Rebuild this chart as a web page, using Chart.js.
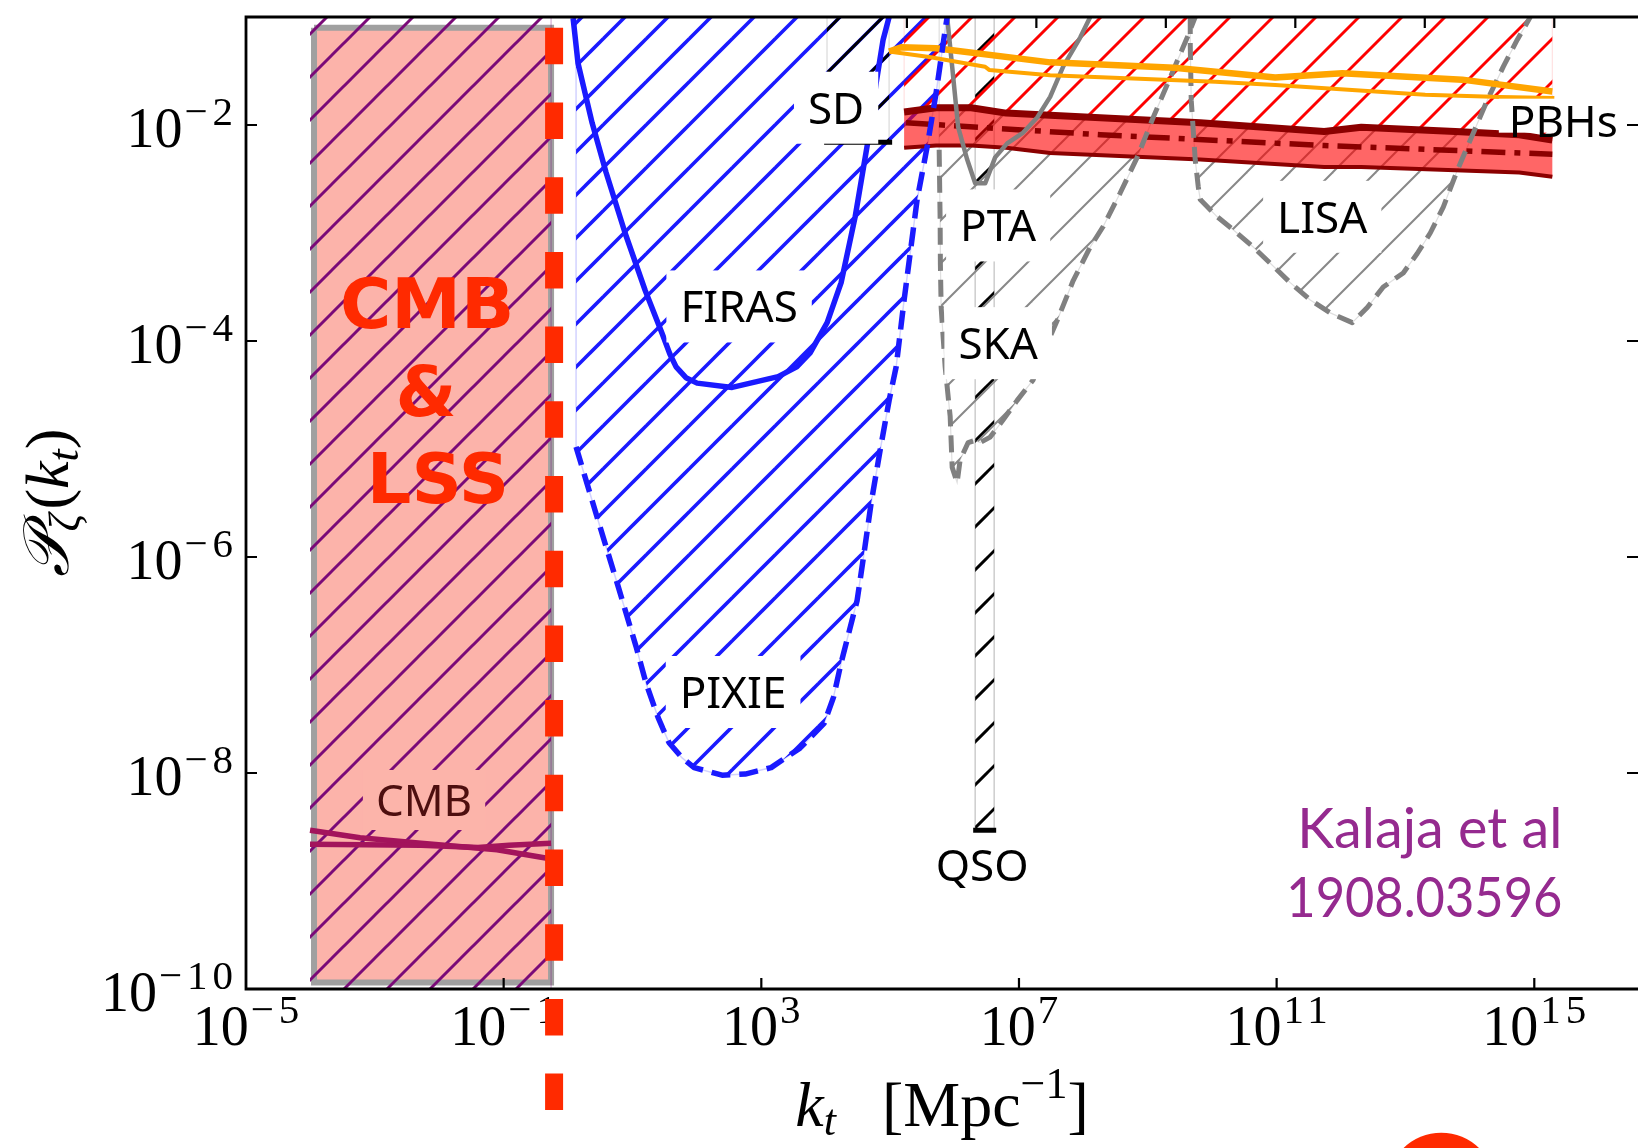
<!DOCTYPE html>
<html>
<head>
<meta charset="utf-8">
<script src="https://cdn.jsdelivr.net/npm/chart.js@4.4.1/dist/chart.umd.min.js"></script>
<style>
    html, body { margin: 0; padding: 0; background: #fff; }
    canvas { display: block; }
</style>
</head>
<body>
<canvas id="chart" width="1638" height="1148"></canvas>
<script>
// every pair is [log10 k_t (Mpc^-1), log10 P_zeta]
const CMB_BOX = [[-3.944, -1.10], [-0.264, -1.10], [-0.264, -9.94], [-3.944, -9.94], [-3.944, -1.10]];
const CMB_HATCH = [[-4.006, -1], [-0.264, -1], [-0.264, -10], [-4.006, -10]];
const CMB_LINE_A = [[-4.006, -8.53], [-3.230, -8.60], [-2.283, -8.65], [-1.102, -8.71], [-0.326, -8.79]];
const CMB_LINE_B = [[-4.006, -8.66], [-2.283, -8.67], [-1.398, -8.69], [-0.916, -8.67], [-0.264, -8.65]];

const PIXIE = [[0.124, -1.0], [0.124, -4.98], [0.450, -5.63], [0.761, -6.24], [1.056, -6.83], [1.211, -7.17],
    [1.400, -7.49], [1.568, -7.72], [1.770, -7.86], [1.957, -7.95], [2.391, -8.02], [2.750, -8.01], [3.152, -7.95],
    [3.600, -7.77], [3.975, -7.54], [4.120, -7.30], [4.239, -6.98], [4.488, -6.40], [4.596, -5.96], [4.705, -5.50],
    [4.845, -5.01], [4.984, -4.55], [5.093, -4.24], [5.217, -3.62], [5.419, -2.69], [5.575, -2.20], [5.714, -1.70],
    [5.854, -1.12], [5.885, -1.0]];
const FIRAS = [[0.078, -1.01], [0.155, -1.43], [0.373, -1.98], [0.590, -2.44], [0.885, -3.00], [1.196, -3.53],
    [1.460, -3.93], [1.580, -4.12], [1.677, -4.24], [1.830, -4.34], [2.003, -4.39], [2.547, -4.43], [3.261, -4.33],
    [3.550, -4.24], [3.758, -4.11], [4.022, -3.83], [4.239, -3.46], [4.457, -2.85], [4.658, -2.14], [4.783, -1.61],
    [4.891, -1.21], [4.984, -1.0]];

const SD_BOX = [[4.02, -1], [4.02, -2.16], [4.984, -2.16], [4.984, -1]];
const SD_LINE = [[3.975, -2.16], [5.031, -2.16]];
const QSO_BOX = [[6.32, -1], [6.32, -8.53], [6.615, -8.53], [6.615, -1]];
const QSO_LINE = [[6.289, -8.53], [6.646, -8.53]];

const PTA = [[5.885, -1.0], [5.963, -1.46], [6.056, -2.02], [6.196, -2.32], [6.320, -2.54], [6.475, -2.54],
    [6.553, -2.42], [6.630, -2.30], [6.817, -2.17], [7.065, -2.07], [7.283, -1.93], [7.484, -1.74], [7.686, -1.46],
    [7.950, -1.19], [8.106, -1.0]];
const SKA = [[5.761, -2.23], [5.776, -2.88], [5.780, -3.29], [5.792, -3.69], [5.854, -4.24], [5.932, -4.70],
    [5.963, -5.17], [6.040, -5.31], [6.087, -5.10], [6.211, -4.94], [6.320, -4.92], [6.398, -4.94], [6.553, -4.89],
    [6.755, -4.73], [6.972, -4.55], [7.220, -4.36], [7.376, -4.11], [7.593, -3.81], [7.842, -3.44], [8.106, -3.13],
    [8.307, -2.94], [8.571, -2.63], [8.835, -2.30], [9.084, -1.93], [9.348, -1.56], [9.612, -1.19], [9.736, -1.0]];
const LISA = [[9.659, -1.0], [9.659, -1.26], [9.674, -1.77], [9.736, -2.32], [9.783, -2.57], [9.814, -2.69],
    [10.078, -2.85], [10.326, -2.97], [10.637, -3.13], [10.901, -3.28], [11.211, -3.46], [11.522, -3.62],
    [11.832, -3.74], [12.174, -3.83], [12.407, -3.69], [12.655, -3.50], [12.966, -3.37], [13.183, -3.19],
    [13.385, -3.00], [13.587, -2.76], [13.804, -2.42], [14.006, -2.14], [14.270, -1.77], [14.519, -1.46],
    [14.736, -1.21], [14.938, -1.0]];

const BAND_X = [5.217, 5.714, 6.258, 6.801, 7.484, 9.814, 11.739, 12.314, 13.773, 14.767, 15.280];
const BAND_UP = [-1.88, -1.84, -1.84, -1.89, -1.91, -1.98, -2.06, -2.02, -2.06, -2.09, -2.14];
const BAND_LO = [-2.21, -2.19, -2.19, -2.21, -2.26, -2.32, -2.39, -2.39, -2.42, -2.44, -2.48];
const BAND_MID = [[5.248, -1.98], [8.261, -2.09], [11.739, -2.19], [15.28, -2.27]];

const ORANGE_UP = [[4.984, -1.32], [5.171, -1.28], [5.714, -1.29], [7.484, -1.42], [9.410, -1.47], [10.978, -1.56],
    [12.019, -1.52], [13.882, -1.58], [15.280, -1.69]];
const ORANGE_LO = [[4.984, -1.32], [5.606, -1.37], [6.475, -1.46], [6.537, -1.49], [7.484, -1.54], [10.047, -1.60],
    [10.978, -1.63], [13.307, -1.72], [14.472, -1.74], [15.311, -1.75]];

// axes
const X_RANGE = [-5, 16.61];
const Y_RANGE = [-10, -1];
const X_TICK_LABELS = [-5, -1, 3, 7, 11, 15];
const X_TOP_TICKS = [5.26, 7.27, 9.28, 11.29, 13.3, 15.31];
const Y_TICK_LABELS = [-2, -4, -6, -8, -10];

// text annotations
const LABEL_TEXT = ['SD', 'FIRAS', 'PIXIE', 'PTA', 'SKA', 'LISA', 'PBHs', 'QSO', 'CMB'];
const LABEL_POS = [[4.161, -1.84], [2.655, -3.68], [2.562, -7.25], [6.677, -2.93], [6.677, -4.02], [11.708, -2.85],
    [15.45, -1.96], [6.429, -8.85], [-2.236, -8.25]];
const CMB_LSS_TEXT = ['CMB', '&', 'LSS'];
const CMB_LSS_POS = [[-2.189, -3.88], [-2.205, -4.69], [-2.019, -5.50]];
const REF_TEXT = ['Kalaja et al', '1908.03596'];
const REF_POS = [[15.435, -8.69], [15.435, -9.33]];
const CMB_LSS_EDGE = -0.217;

const pts = arr => arr.map(([a, b]) => ({x: 10 ** a, y: 10 ** b}));

function hatch(color, width, phase) {
    const s = 43;
    const tile = document.createElement('canvas');
    tile.width = s;
    tile.height = s;
    const g = tile.getContext('2d');
    g.strokeStyle = color;
    g.lineWidth = width;
    for (let k = -1; k <= 2; k++) {
        const c = phase + k * s;
        g.beginPath();
        g.moveTo(-5, c + 5);
        g.lineTo(s + 5, c - s - 5);
        g.stroke();
    }
    return g.createPattern(tile, 'repeat');
}

function region(data, fillStyle, edge, edgeWidth) {
    return {data: pts(data), fill: 'shape', backgroundColor: fillStyle, borderColor: edge,
        borderWidth: edgeWidth, pointRadius: 0, tension: 0};
}

function curve(data, color, width, dash) {
    return {data: pts(data), fill: false, borderColor: color, borderWidth: width, borderDash: dash || [],
        borderJoinStyle: 'round', pointRadius: 0, tension: 0};
}

const purpleHatch = hatch('#7a0a78', 3, 0);
const blueHatch = hatch('#1a1aff', 3.6, 40);
const blackHatch = hatch('#000000', 3, 40);
const grayHatch = hatch('#888888', 2, 0);
const redHatch = hatch('#ff0000', 2.8, 0);

const bandUp = BAND_X.map((x, i) => [x, BAND_UP[i]]);
const bandLo = BAND_X.map((x, i) => [x, BAND_LO[i]]);
const yTop = Y_RANGE[1];

// bottom layer first
const layers = [
    region(CMB_BOX, 'rgba(250,128,114,0.6)', '#a0a0a0', 6),
    region(CMB_HATCH, purpleHatch, 'rgba(128,0,128,0.15)', 1),
    curve(CMB_LINE_A, '#a3145c', 5.5),
    curve(CMB_LINE_B, '#a3145c', 5.5),
    region(PIXIE, blueHatch, 'rgba(32,32,255,0.2)', 1.5),
    region(SD_BOX, blackHatch, 'rgba(0,0,0,0.12)', 1.5),
    region(QSO_BOX, blackHatch, 'rgba(0,0,0,0.2)', 1.5),
    region(PTA, grayHatch, 'rgba(128,128,128,0.25)', 1.2),
    region([[SKA[0][0], yTop], ...SKA], grayHatch, 'rgba(128,128,128,0.25)', 1.2),
    region(LISA, grayHatch, 'rgba(128,128,128,0.25)', 1.2),
    region([[BAND_X[0], yTop], ...bandUp, [BAND_X[BAND_X.length - 1], yTop]], redHatch, 'rgba(255,0,0,0.12)', 1.2),
    region([...bandUp, ...bandLo.slice().reverse()], 'rgba(255,0,0,0.6)', 'rgba(0,0,0,0)', 0),
    curve(bandUp, '#8b0000', 7),
    curve(bandLo, '#8b0000', 4),
    curve(BAND_MID, '#8b0000', 5.5, [24, 9, 6, 9]),
    curve(PTA, '#808080', 4.5),
    curve(SKA, '#808080', 5, [17, 9]),
    curve(LISA, '#808080', 5, [17, 9]),
    curve(ORANGE_UP, '#ffa500', 6.5),
    curve(ORANGE_LO, '#ffa500', 4),
    curve(FIRAS, '#1a1aff', 5.5),
    curve(PIXIE.slice(1), '#1a1aff', 5.5, [19, 9]),
    curve(SD_LINE, '#000000', 5),
    curve(QSO_LINE, '#000000', 5),
];
layers.forEach((d, i) => { d.order = layers.length - i; });

const SERIF = '"Liberation Serif", "DejaVu Serif", serif';

function drawParts(ctx, parts, cx, baseline) {
    let total = 0;
    parts.forEach(p => {
        if (typeof p === 'number') { total += p; return; }
        ctx.font = p[1];
        p.w = ctx.measureText(p[0]).width;
        total += p.w;
    });
    let x = cx - total / 2;
    ctx.textAlign = 'left';
    ctx.textBaseline = 'alphabetic';
    parts.forEach(p => {
        if (typeof p === 'number') { x += p; return; }
        ctx.font = p[1];
        ctx.fillText(p[0], x, baseline + (p[2] || 0));
        x += p.w;
    });
}

function drawPower(ctx, exp, x, baseline, align) {
    const sup = exp < 0 ? '\u2212' + (-exp) : String(exp);
    ctx.letterSpacing = '0px';
    ctx.font = '56px ' + SERIF;
    const wb = ctx.measureText('10').width;
    ctx.font = '41px ' + SERIF;
    ctx.letterSpacing = '5px';
    const ws = ctx.measureText(sup).width - 5;
    const total = wb + ws + 2;
    const x0 = align === 'right' ? x - total : x - total / 2;
    ctx.textAlign = 'left';
    ctx.textBaseline = 'alphabetic';
    ctx.fillStyle = '#000';
    ctx.fillText(sup, x0 + wb + 2, baseline - 22);
    ctx.letterSpacing = '0px';
    ctx.font = '56px ' + SERIF;
    ctx.fillText('10', x0, baseline);
}

const overlay = {
    id: 'overlay',
    afterDatasetsDraw(chart) {
        const ctx = chart.ctx;
        const area = chart.chartArea;
        const px = v => chart.scales.x.getPixelForValue(10 ** v);
        const py = v => chart.scales.y.getPixelForValue(10 ** v);

        ctx.save();
        // boxed region labels
        LABEL_TEXT.forEach((text, i) => {
            const x = px(LABEL_POS[i][0]);
            const y = py(LABEL_POS[i][1]);
            ctx.font = '44px "Noto Sans"';
            const w = ctx.measureText(text).width;
            if (text === 'CMB') {
                ctx.fillStyle = 'rgb(252,180,170)';
                ctx.fillRect(x - w / 2 - 13, y - 30, w + 26, 60);
            } else if (text === 'PBHs') {
                ctx.fillStyle = '#fff';
                ctx.fillRect(x - w / 2 - 10, y - 22, w + 20, 34);
            } else if (text !== 'QSO') {
                ctx.fillStyle = '#fff';
                ctx.fillRect(x - w / 2 - 14, y - 36, w + 28, 72);
            }
            ctx.fillStyle = text === 'CMB' ? '#4d0f0f' : '#000';
            ctx.textAlign = 'center';
            ctx.textBaseline = 'alphabetic';
            ctx.fillText(text, x, y + 16);
        });

        // frame: left, bottom and top spines, inward ticks
        ctx.strokeStyle = '#000';
        ctx.lineWidth = 2.8;
        ctx.beginPath();
        ctx.moveTo(area.right, area.top);
        ctx.lineTo(area.left, area.top);
        ctx.lineTo(area.left, area.bottom);
        ctx.lineTo(area.right, area.bottom);
        ctx.stroke();
        ctx.lineWidth = 2.2;
        ctx.beginPath();
        X_TICK_LABELS.slice(1).forEach(e => {
            ctx.moveTo(px(e), area.bottom);
            ctx.lineTo(px(e), area.bottom - 11);
        });
        X_TOP_TICKS.forEach(e => {
            ctx.moveTo(px(e), area.top);
            ctx.lineTo(px(e), area.top + 11);
        });
        Y_TICK_LABELS.slice(0, -1).forEach(e => {
            ctx.moveTo(area.left, py(e));
            ctx.lineTo(area.left + 11, py(e));
            ctx.moveTo(area.right, py(e));
            ctx.lineTo(area.right - 11, py(e));
        });
        ctx.stroke();

        X_TICK_LABELS.forEach(e => drawPower(ctx, e, px(e), area.bottom + 56, 'center'));
        Y_TICK_LABELS.forEach(e => drawPower(ctx, e, area.left - 13, py(e) + 22, 'right'));

        // axis titles
        ctx.fillStyle = '#000';
        const midX = (area.left + area.right) / 2;
        drawParts(ctx, [
            ['k', 'italic 64px ' + SERIF],
            ['t', 'italic 44px ' + SERIF, 9],
            46,
            ['[Mpc', '64px ' + SERIF],
            ['\u22121', '44px ' + SERIF, -28],
            [']', '64px ' + SERIF],
        ], midX, area.bottom + 137);

        ctx.save();
        ctx.translate(area.left - 178, (area.top + area.bottom) / 2);
        ctx.rotate(-Math.PI / 2);
        drawParts(ctx, [
            ['\u{1D4AB}', 'italic 64px ' + SERIF],
            ['\u03B6', 'italic 44px ' + SERIF, 11],
            4,
            ['(', '62px ' + SERIF],
            ['k', 'italic 62px ' + SERIF],
            ['t', 'italic 44px ' + SERIF, 10],
            [')', '62px ' + SERIF],
        ], 0, 0);
        ctx.restore();

        // slide annotations
        ctx.strokeStyle = '#ff2a00';
        ctx.lineWidth = 18;
        ctx.setLineDash([36.5, 38.2]);
        ctx.beginPath();
        ctx.moveTo(px(CMB_LSS_EDGE), py(CMB_BOX[0][1]));
        ctx.lineTo(px(CMB_LSS_EDGE), chart.height);
        ctx.stroke();
        ctx.setLineDash([]);

        ctx.fillStyle = '#ff2a00';
        ctx.font = 'bold 70px "DejaVu Sans"';
        ctx.textAlign = 'center';
        CMB_LSS_TEXT.forEach((t, i) => ctx.fillText(t, px(CMB_LSS_POS[i][0]), py(CMB_LSS_POS[i][1])));

        ctx.fillStyle = '#952a8f';
        ctx.font = '57px Lato';
        ctx.textAlign = 'right';
        ctx.fillText(REF_TEXT[0], px(REF_POS[0][0]), py(REF_POS[0][1]), 265);
        ctx.fillText(REF_TEXT[1], px(REF_POS[1][0]), py(REF_POS[1][1]), 276);

        ctx.fillStyle = '#ff2a00';
        ctx.beginPath();
        ctx.arc(px(13.556), py(-11.83), 54, 0, Math.PI * 2);
        ctx.fill();
        ctx.restore();
    }
};

new Chart(document.getElementById('chart'), {
    type: 'line',
    data: {datasets: layers},
    options: {
        responsive: false,
        animation: false,
        devicePixelRatio: 1,
        events: [],
        layout: {padding: {left: 246, top: 17, right: 0, bottom: 159}},
        scales: {
            x: {type: 'logarithmic', min: 10 ** X_RANGE[0], max: 10 ** X_RANGE[1], bounds: 'data', display: false},
            y: {type: 'logarithmic', min: 10 ** Y_RANGE[0], max: 10 ** Y_RANGE[1], bounds: 'data', display: false},
        },
        plugins: {legend: {display: false}, tooltip: {enabled: false}},
    },
    plugins: [overlay],
});
</script>
</body>
</html>
